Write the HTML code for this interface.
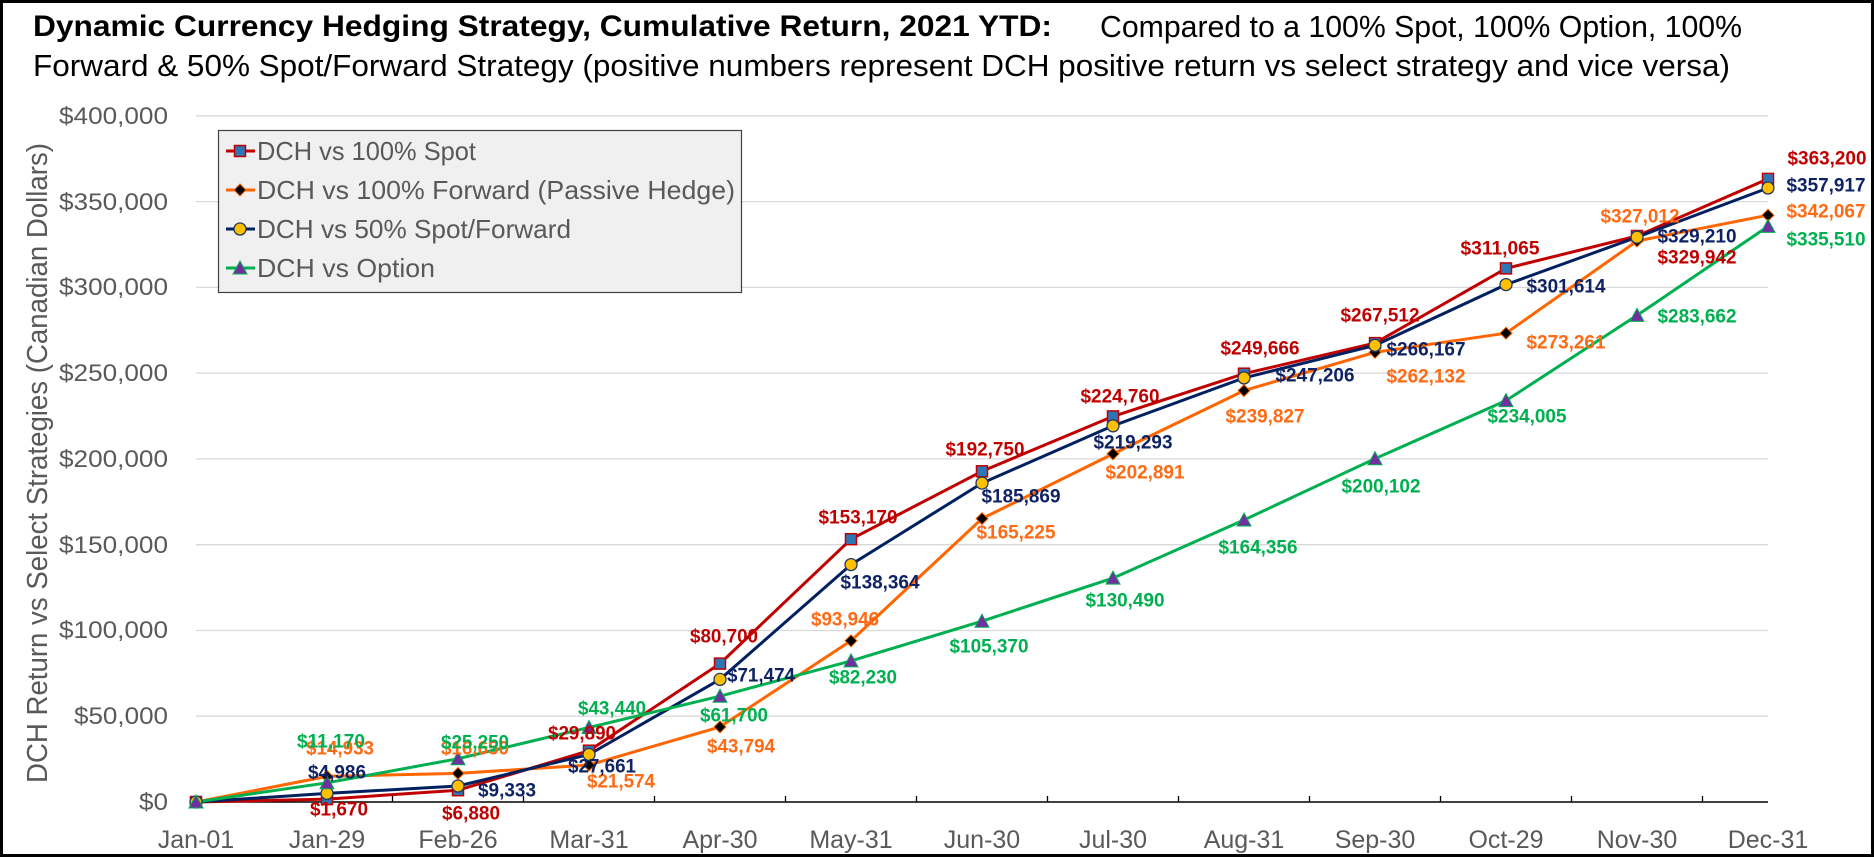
<!DOCTYPE html>
<html><head><meta charset="utf-8"><style>
html,body{margin:0;padding:0;background:#fff;}
svg{display:block;}
text{font-family:"Liberation Sans",sans-serif;}
.dl{font-weight:bold;font-size:19px;text-anchor:middle;dominant-baseline:central;}
.r{fill:#C00000}.o{fill:#FF6A13}.n{fill:#0E2264}.g{fill:#00B050}
.yl{font-size:24px;fill:#595959;text-anchor:end;}
.xl{font-size:25px;fill:#595959;text-anchor:middle;}
</style></head><body>
<svg width="1874" height="857" viewBox="0 0 1874 857" xmlns="http://www.w3.org/2000/svg">
<rect x="1.5" y="1.5" width="1871" height="854" fill="#fff" stroke="#000" stroke-width="3"/>
<text x="33" y="36" font-size="30" font-weight="bold" textLength="1019" lengthAdjust="spacingAndGlyphs">Dynamic Currency Hedging Strategy, Cumulative Return, 2021 YTD:</text>
<text x="1100" y="37" font-size="31" textLength="642" lengthAdjust="spacingAndGlyphs">Compared to a 100% Spot, 100% Option, 100%</text>
<text x="33" y="76" font-size="31" textLength="1697" lengthAdjust="spacingAndGlyphs">Forward &amp; 50% Spot/Forward Strategy (positive numbers represent DCH positive return vs select strategy and vice versa)</text>

<g stroke="#d9d9d9" stroke-width="1.3">
<line x1="196" x2="1768" y1="716.2" y2="716.2"/><line x1="196" x2="1768" y1="630.5" y2="630.5"/>
<line x1="196" x2="1768" y1="544.7" y2="544.7"/><line x1="196" x2="1768" y1="458.9" y2="458.9"/>
<line x1="196" x2="1768" y1="373.1" y2="373.1"/><line x1="196" x2="1768" y1="287.4" y2="287.4"/>
<line x1="196" x2="1768" y1="201.6" y2="201.6"/><line x1="196" x2="1768" y1="115.8" y2="115.8"/>
</g>
<line x1="196" x2="1768" y1="802" y2="802" stroke="#000" stroke-width="1.5"/>
<g stroke="#000" stroke-width="1.3">
<line x1="261.5" x2="261.5" y1="796" y2="802"/><line x1="392.5" x2="392.5" y1="796" y2="802"/><line x1="523.5" x2="523.5" y1="796" y2="802"/><line x1="654.5" x2="654.5" y1="796" y2="802"/><line x1="785.5" x2="785.5" y1="796" y2="802"/><line x1="916.5" x2="916.5" y1="796" y2="802"/><line x1="1047.5" x2="1047.5" y1="796" y2="802"/><line x1="1178.5" x2="1178.5" y1="796" y2="802"/><line x1="1309.5" x2="1309.5" y1="796" y2="802"/><line x1="1440.5" x2="1440.5" y1="796" y2="802"/><line x1="1571.5" x2="1571.5" y1="796" y2="802"/><line x1="1702.5" x2="1702.5" y1="796" y2="802"/>
</g>

<g class="yl">
<text x="168" y="810" textLength="29" lengthAdjust="spacingAndGlyphs">$0</text>
<text x="168" y="724" textLength="94" lengthAdjust="spacingAndGlyphs">$50,000</text>
<text x="168" y="638" textLength="109" lengthAdjust="spacingAndGlyphs">$100,000</text>
<text x="168" y="553" textLength="109" lengthAdjust="spacingAndGlyphs">$150,000</text>
<text x="168" y="467" textLength="109" lengthAdjust="spacingAndGlyphs">$200,000</text>
<text x="168" y="381" textLength="109" lengthAdjust="spacingAndGlyphs">$250,000</text>
<text x="168" y="295" textLength="109" lengthAdjust="spacingAndGlyphs">$300,000</text>
<text x="168" y="210" textLength="109" lengthAdjust="spacingAndGlyphs">$350,000</text>
<text x="168" y="124" textLength="109" lengthAdjust="spacingAndGlyphs">$400,000</text>
</g>
<g class="xl">
<text x="196" y="848">Jan-01</text><text x="327" y="848">Jan-29</text><text x="458" y="848">Feb-26</text><text x="589" y="848">Mar-31</text><text x="720" y="848">Apr-30</text><text x="851" y="848">May-31</text><text x="982" y="848">Jun-30</text><text x="1113" y="848">Jul-30</text><text x="1244" y="848">Aug-31</text><text x="1375" y="848">Sep-30</text><text x="1506" y="848">Oct-29</text><text x="1637" y="848">Nov-30</text><text x="1768" y="848">Dec-31</text>
</g>
<text transform="translate(47,463) rotate(-90)" font-size="29" fill="#595959" text-anchor="middle" textLength="640" lengthAdjust="spacingAndGlyphs">DCH Return vs Select Strategies (Canadian Dollars)</text>

<g fill="none" stroke-width="3" stroke-linejoin="round">
<polyline stroke="#C00000" points="196,802 327,799.1 458,790.2 589,750.7 720,663.6 851,539.2 982,471.3 1113,416.4 1244,373.7 1375,343.1 1506,268.4 1637,236 1768,178.9"/>
<polyline stroke="#FF6600" points="196,802 327,776.4 458,773.4 589,765 720,726.9 851,640.8 982,518.6 1113,453.9 1244,390.6 1375,352.3 1506,333.2 1637,241 1768,215.2"/>
<polyline stroke="#002060" points="196,802 327,793.4 458,786 589,754.5 720,679.4 851,564.6 982,483.1 1113,425.8 1244,377.9 1375,345.4 1506,284.6 1637,237.2 1768,188"/>
<polyline stroke="#00B050" points="196,802 327,782.8 458,758.7 589,727.5 720,696.2 851,660.9 982,621.2 1113,578.1 1244,520 1375,458.7 1506,400.6 1637,315.4 1768,226.4"/>
</g>
<g fill="#2E75B6" stroke="#C00000" stroke-width="1.5">
<rect x="190.5" y="796.5" width="11" height="11"/><rect x="321.5" y="793.6" width="11" height="11"/><rect x="452.5" y="784.7" width="11" height="11"/><rect x="583.5" y="745.2" width="11" height="11"/><rect x="714.5" y="658.1" width="11" height="11"/><rect x="845.5" y="533.7" width="11" height="11"/><rect x="976.5" y="465.8" width="11" height="11"/><rect x="1107.5" y="410.9" width="11" height="11"/><rect x="1238.5" y="368.2" width="11" height="11"/><rect x="1369.5" y="337.6" width="11" height="11"/><rect x="1500.5" y="262.9" width="11" height="11"/><rect x="1631.5" y="230.5" width="11" height="11"/><rect x="1762.5" y="173.4" width="11" height="11"/>
</g>
<g fill="#000" stroke="#FF6600" stroke-width="1">
<polygon points="196,796 202,802 196,808 190,802"/><polygon points="327,770.4 333,776.4 327,782.4 321,776.4"/><polygon points="458,767.4 464,773.4 458,779.4 452,773.4"/><polygon points="589,759 595,765 589,771 583,765"/><polygon points="720,720.9 726,726.9 720,732.9 714,726.9"/><polygon points="851,634.8 857,640.8 851,646.8 845,640.8"/><polygon points="982,512.6 988,518.6 982,524.6 976,518.6"/><polygon points="1113,447.9 1119,453.9 1113,459.9 1107,453.9"/><polygon points="1244,384.6 1250,390.6 1244,396.6 1238,390.6"/><polygon points="1375,346.3 1381,352.3 1375,358.3 1369,352.3"/><polygon points="1506,327.2 1512,333.2 1506,339.2 1500,333.2"/><polygon points="1637,235 1643,241 1637,247 1631,241"/><polygon points="1768,209.2 1774,215.2 1768,221.2 1762,215.2"/>
</g>
<g fill="#FFC000" stroke="#1F3864" stroke-width="1.3">
<circle cx="196" cy="802" r="6"/><circle cx="327" cy="793.4" r="6"/><circle cx="458" cy="786" r="6"/><circle cx="589" cy="754.5" r="6"/><circle cx="720" cy="679.4" r="6"/><circle cx="851" cy="564.6" r="6"/><circle cx="982" cy="483.1" r="6"/><circle cx="1113" cy="425.8" r="6"/><circle cx="1244" cy="377.9" r="6"/><circle cx="1375" cy="345.4" r="6"/><circle cx="1506" cy="284.6" r="6"/><circle cx="1637" cy="237.2" r="6"/><circle cx="1768" cy="188" r="6"/>
</g>
<g fill="#7030A0" stroke="#00B050" stroke-width="1">
<polygon points="196,795 203,808 189,808"/><polygon points="327,775.8 334,788.8 320,788.8"/><polygon points="458,751.7 465,764.7 451,764.7"/><polygon points="589,720.5 596,733.5 582,733.5"/><polygon points="720,689.2 727,702.2 713,702.2"/><polygon points="851,653.9 858,666.9 844,666.9"/><polygon points="982,614.2 989,627.2 975,627.2"/><polygon points="1113,571.1 1120,584.1 1106,584.1"/><polygon points="1244,513 1251,526 1237,526"/><polygon points="1375,451.7 1382,464.7 1368,464.7"/><polygon points="1506,393.6 1513,406.6 1499,406.6"/><polygon points="1637,308.4 1644,321.4 1630,321.4"/><polygon points="1768,219.4 1775,232.4 1761,232.4"/>
</g>

<g class="dl r">
<text x="339" y="810" textLength="58" lengthAdjust="spacingAndGlyphs">$1,670</text>
<text x="471" y="814" textLength="58" lengthAdjust="spacingAndGlyphs">$6,880</text>
<text x="582" y="734" textLength="68" lengthAdjust="spacingAndGlyphs">$29,890</text>
<text x="724" y="637" textLength="68" lengthAdjust="spacingAndGlyphs">$80,700</text>
<text x="858" y="518" textLength="79" lengthAdjust="spacingAndGlyphs">$153,170</text>
<text x="985" y="450" textLength="79" lengthAdjust="spacingAndGlyphs">$192,750</text>
<text x="1120" y="397" textLength="79" lengthAdjust="spacingAndGlyphs">$224,760</text>
<text x="1260" y="349" textLength="79" lengthAdjust="spacingAndGlyphs">$249,666</text>
<text x="1380" y="316" textLength="79" lengthAdjust="spacingAndGlyphs">$267,512</text>
<text x="1500" y="249" textLength="79" lengthAdjust="spacingAndGlyphs">$311,065</text>
<text x="1697" y="258" textLength="79" lengthAdjust="spacingAndGlyphs">$329,942</text>
<text x="1827" y="159" textLength="79" lengthAdjust="spacingAndGlyphs">$363,200</text>
</g>
<g class="dl o">
<text x="340" y="749" textLength="68" lengthAdjust="spacingAndGlyphs">$14,933</text>
<text x="475" y="749" textLength="68" lengthAdjust="spacingAndGlyphs">$16,650</text>
<text x="621" y="782" textLength="68" lengthAdjust="spacingAndGlyphs">$21,574</text>
<text x="741" y="747" textLength="68" lengthAdjust="spacingAndGlyphs">$43,794</text>
<text x="845" y="620" textLength="68" lengthAdjust="spacingAndGlyphs">$93,946</text>
<text x="1016" y="533" textLength="79" lengthAdjust="spacingAndGlyphs">$165,225</text>
<text x="1145" y="473" textLength="79" lengthAdjust="spacingAndGlyphs">$202,891</text>
<text x="1265" y="417" textLength="79" lengthAdjust="spacingAndGlyphs">$239,827</text>
<text x="1426" y="377" textLength="79" lengthAdjust="spacingAndGlyphs">$262,132</text>
<text x="1566" y="343" textLength="79" lengthAdjust="spacingAndGlyphs">$273,261</text>
<text x="1640" y="217" textLength="79" lengthAdjust="spacingAndGlyphs">$327,012</text>
<text x="1826" y="212" textLength="79" lengthAdjust="spacingAndGlyphs">$342,067</text>
</g>
<g class="dl n">
<text x="337" y="773" textLength="58" lengthAdjust="spacingAndGlyphs">$4,986</text>
<text x="507" y="791" textLength="58" lengthAdjust="spacingAndGlyphs">$9,333</text>
<text x="602" y="767" textLength="68" lengthAdjust="spacingAndGlyphs">$27,661</text>
<text x="761" y="676" textLength="68" lengthAdjust="spacingAndGlyphs">$71,474</text>
<text x="880" y="583" textLength="79" lengthAdjust="spacingAndGlyphs">$138,364</text>
<text x="1021" y="497" textLength="79" lengthAdjust="spacingAndGlyphs">$185,869</text>
<text x="1133" y="443" textLength="79" lengthAdjust="spacingAndGlyphs">$219,293</text>
<text x="1315" y="376" textLength="79" lengthAdjust="spacingAndGlyphs">$247,206</text>
<text x="1426" y="350" textLength="79" lengthAdjust="spacingAndGlyphs">$266,167</text>
<text x="1566" y="287" textLength="79" lengthAdjust="spacingAndGlyphs">$301,614</text>
<text x="1697" y="237" textLength="79" lengthAdjust="spacingAndGlyphs">$329,210</text>
<text x="1826" y="186" textLength="79" lengthAdjust="spacingAndGlyphs">$357,917</text>
</g>
<g class="dl g">
<text x="331" y="742" textLength="68" lengthAdjust="spacingAndGlyphs">$11,170</text>
<text x="475" y="743" textLength="68" lengthAdjust="spacingAndGlyphs">$25,250</text>
<text x="612" y="709" textLength="68" lengthAdjust="spacingAndGlyphs">$43,440</text>
<text x="734" y="716" textLength="68" lengthAdjust="spacingAndGlyphs">$61,700</text>
<text x="863" y="678" textLength="68" lengthAdjust="spacingAndGlyphs">$82,230</text>
<text x="989" y="647" textLength="79" lengthAdjust="spacingAndGlyphs">$105,370</text>
<text x="1125" y="601" textLength="79" lengthAdjust="spacingAndGlyphs">$130,490</text>
<text x="1258" y="548" textLength="79" lengthAdjust="spacingAndGlyphs">$164,356</text>
<text x="1381" y="487" textLength="79" lengthAdjust="spacingAndGlyphs">$200,102</text>
<text x="1527" y="417" textLength="79" lengthAdjust="spacingAndGlyphs">$234,005</text>
<text x="1697" y="317" textLength="79" lengthAdjust="spacingAndGlyphs">$283,662</text>
<text x="1826" y="240" textLength="79" lengthAdjust="spacingAndGlyphs">$335,510</text>
</g>

<rect x="218.5" y="130.5" width="523" height="162" fill="#f0f0f0" stroke="#404040" stroke-width="1.2"/>
<g stroke-width="3">
<line x1="226" x2="255" y1="151" y2="151" stroke="#C00000"/>
<line x1="226" x2="255" y1="190" y2="190" stroke="#FF6600"/>
<line x1="226" x2="255" y1="229" y2="229" stroke="#002060"/>
<line x1="226" x2="255" y1="268" y2="268" stroke="#00B050"/>
</g>
<rect x="234.5" y="145.5" width="11" height="11" fill="#2E75B6" stroke="#C00000" stroke-width="1.5"/>
<polygon points="240,184 246,190 240,196 234,190" fill="#000" stroke="#FF6600"/>
<circle cx="240" cy="229" r="6" fill="#FFC000" stroke="#1F3864" stroke-width="1.3"/>
<polygon points="240,261 247,274 233,274" fill="#7030A0" stroke="#00B050"/>
<g font-size="26" fill="#595959">
<text x="257" y="160" textLength="219" lengthAdjust="spacingAndGlyphs">DCH vs 100% Spot</text>
<text x="257" y="199" textLength="478" lengthAdjust="spacingAndGlyphs">DCH vs 100% Forward (Passive Hedge)</text>
<text x="257" y="238" textLength="314" lengthAdjust="spacingAndGlyphs">DCH vs 50% Spot/Forward</text>
<text x="257" y="277" textLength="178" lengthAdjust="spacingAndGlyphs">DCH vs Option</text>
</g>
</svg>
</body></html>
